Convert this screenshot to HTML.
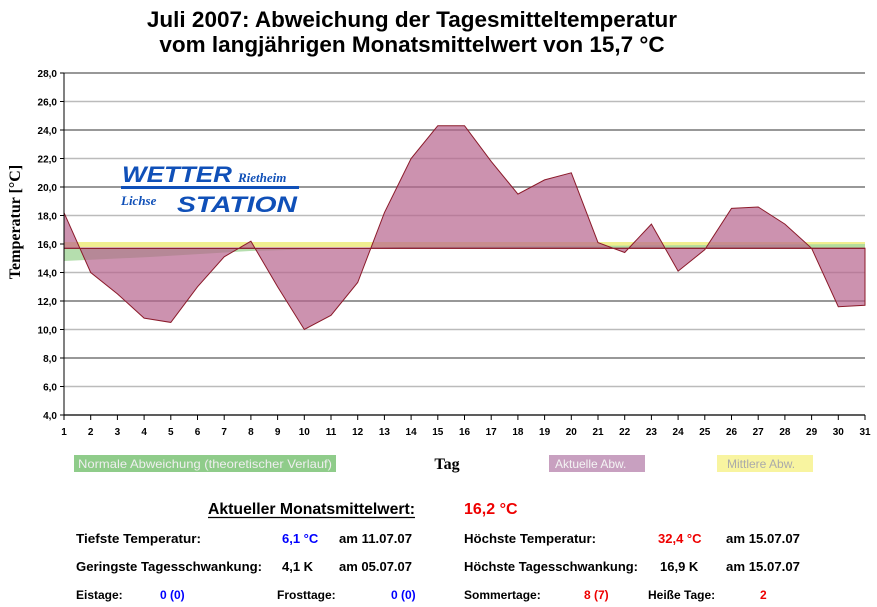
<!DOCTYPE html>
<html><head><meta charset="utf-8"><style>
body{margin:0;width:877px;height:607px;background:#fff;overflow:hidden;font-family:"Liberation Sans",sans-serif}
svg{position:absolute;left:0;top:0}
</style></head><body>
<svg width="877" height="607" viewBox="0 0 877 607">
<text x="412" y="27" font-size="22.5" font-weight="bold" text-anchor="middle" font-family="Liberation Sans">Juli 2007: Abweichung der Tagesmitteltemperatur</text>
<text x="412" y="52" font-size="22.5" font-weight="bold" text-anchor="middle" font-family="Liberation Sans">vom langjährigen Monatsmittelwert von 15,7 °C</text>
<g stroke-width="1.5">
<line x1="64" x2="865" y1="73" y2="73" stroke="#777"/>
<line x1="64" x2="865" y1="101.5" y2="101.5" stroke="#bbb"/>
<line x1="64" x2="865" y1="130" y2="130" stroke="#777"/>
<line x1="64" x2="865" y1="158.5" y2="158.5" stroke="#bbb"/>
<line x1="64" x2="865" y1="187" y2="187" stroke="#777"/>
<line x1="64" x2="865" y1="215.5" y2="215.5" stroke="#bbb"/>
<line x1="64" x2="865" y1="244" y2="244" stroke="#777"/>
<line x1="64" x2="865" y1="272.5" y2="272.5" stroke="#bbb"/>
<line x1="64" x2="865" y1="301" y2="301" stroke="#777"/>
<line x1="64" x2="865" y1="329.5" y2="329.5" stroke="#bbb"/>
<line x1="64" x2="865" y1="358" y2="358" stroke="#777"/>
<line x1="64" x2="865" y1="386.5" y2="386.5" stroke="#bbb"/>
<line x1="64" x2="865" y1="415" y2="415" stroke="#777"/>
</g>
<rect x="64" y="242" width="801" height="5" fill="#f0ee90"/>
<polygon points="64,248.3 64,261 150,257 250,251 400,247 865,244 865,248.3" fill="#a8d8a0" opacity="0.85"/>
<polygon points="64,248.3 64,212.7 90.7,272.5 117.4,293.9 144.1,318.1 170.8,322.4 197.5,286.8 224.2,256.8 250.9,241.2 277.6,286.8 304.3,329.5 331,315.3 357.7,282.5 384.4,212.7 411.1,158.5 437.8,125.7 464.5,125.7 491.2,161.4 517.9,194.1 544.6,179.9 571.3,172.8 598,242.6 624.7,252.5 651.4,224.1 678.1,271.1 704.8,249.7 731.5,208.4 758.2,207 784.9,224.1 811.6,248.3 838.3,306.7 865,305.3 865,248.3" fill="#b7648d" fill-opacity="0.7" stroke="#8b1a2a" stroke-width="1"/>
<line x1="64" x2="865" y1="248.3" y2="248.3" stroke="#8b1a2a" stroke-width="1.2"/>
<line x1="64" x2="64" y1="73" y2="415" stroke="#000"/>
<g stroke="#000"><line x1="60" x2="64" y1="73" y2="73"/><line x1="60" x2="64" y1="101.5" y2="101.5"/><line x1="60" x2="64" y1="130" y2="130"/><line x1="60" x2="64" y1="158.5" y2="158.5"/><line x1="60" x2="64" y1="187" y2="187"/><line x1="60" x2="64" y1="215.5" y2="215.5"/><line x1="60" x2="64" y1="244" y2="244"/><line x1="60" x2="64" y1="272.5" y2="272.5"/><line x1="60" x2="64" y1="301" y2="301"/><line x1="60" x2="64" y1="329.5" y2="329.5"/><line x1="60" x2="64" y1="358" y2="358"/><line x1="60" x2="64" y1="386.5" y2="386.5"/><line x1="60" x2="64" y1="415" y2="415"/></g>
<g font-size="10" font-weight="bold" text-anchor="end" font-family="Liberation Sans">
<text x="57" y="77">28,0</text><text x="57" y="105.5">26,0</text><text x="57" y="134">24,0</text><text x="57" y="162.5">22,0</text><text x="57" y="191">20,0</text><text x="57" y="219.5">18,0</text><text x="57" y="248">16,0</text><text x="57" y="276.5">14,0</text><text x="57" y="305">12,0</text><text x="57" y="333.5">10,0</text><text x="57" y="362">8,0</text><text x="57" y="390.5">6,0</text><text x="57" y="419">4,0</text>
</g>
<text transform="translate(20,222) rotate(-90)" font-size="16" font-weight="bold" text-anchor="middle" font-family="Liberation Serif">Temperatur [°C]</text>
<g id="xt" font-size="10" font-weight="bold" text-anchor="middle" font-family="Liberation Sans"></g>
<g font-style="italic" font-weight="bold" fill="#1050b8">
<text x="122" y="182" font-size="22" font-family="Liberation Sans" textLength="110" lengthAdjust="spacingAndGlyphs">WETTER</text>
<text x="238" y="182" font-size="13" font-family="Liberation Serif">Rietheim</text>
<rect x="121" y="186" width="178" height="3"/>
<text x="121" y="205" font-size="13" font-family="Liberation Serif">Lichse</text>
<text x="177" y="212" font-size="22" font-family="Liberation Sans" textLength="120" lengthAdjust="spacingAndGlyphs">STATION</text>
</g>
<rect x="74" y="455" width="262" height="17" fill="#8fcc8a"/>
<text x="78" y="468" font-size="12" fill="#eee" font-family="Liberation Sans" textLength="254" lengthAdjust="spacingAndGlyphs">Normale Abweichung (theoretischer Verlauf)</text>
<text x="447" y="469" font-size="16" font-weight="bold" text-anchor="middle" font-family="Liberation Serif">Tag</text>
<rect x="549" y="455" width="96" height="17" fill="#c8a0c0"/>
<text x="555" y="468" font-size="12" fill="#f4f4f4" font-family="Liberation Sans">Aktuelle Abw.</text>
<rect x="717" y="455" width="96" height="17" fill="#f8f4a0"/>
<text x="727" y="468" font-size="12" fill="#aaa" font-family="Liberation Sans">Mittlere Abw.</text>
<text x="208" y="514" font-size="16" font-weight="bold" font-family="Liberation Sans" textLength="207" lengthAdjust="spacingAndGlyphs">Aktueller Monatsmittelwert:</text>
<line x1="208" x2="415" y1="517.5" y2="517.5" stroke="#000" stroke-width="1.3"/>
<text x="464" y="514" font-size="16" font-weight="bold" fill="#e00" font-family="Liberation Sans">16,2 °C</text>
<g font-size="13" font-weight="bold" font-family="Liberation Sans">
<text x="76" y="543" textLength="125" lengthAdjust="spacingAndGlyphs">Tiefste Temperatur:</text><text x="282" y="543" fill="#00f">6,1 °C</text><text x="339" y="543" textLength="73" lengthAdjust="spacingAndGlyphs">am 11.07.07</text>
<text x="464" y="543" textLength="132" lengthAdjust="spacingAndGlyphs">Höchste Temperatur:</text><text x="658" y="543" fill="#e00">32,4 °C</text><text x="726" y="543" textLength="74" lengthAdjust="spacingAndGlyphs">am 15.07.07</text>
<text x="76" y="571" textLength="186" lengthAdjust="spacingAndGlyphs">Geringste Tagesschwankung:</text><text x="282" y="571">4,1 K</text><text x="339" y="571" textLength="73" lengthAdjust="spacingAndGlyphs">am 05.07.07</text>
<text x="464" y="571" textLength="174" lengthAdjust="spacingAndGlyphs">Höchste Tagesschwankung:</text><text x="660" y="571">16,9 K</text><text x="726" y="571" textLength="74" lengthAdjust="spacingAndGlyphs">am 15.07.07</text>
</g>
<g font-size="12" font-weight="bold" font-family="Liberation Sans">
<text x="76" y="599">Eistage:</text><text x="160" y="599" fill="#00f">0 (0)</text>
<text x="277" y="599">Frosttage:</text><text x="391" y="599" fill="#00f">0 (0)</text>
<text x="464" y="599">Sommertage:</text><text x="584" y="599" fill="#e00">8 (7)</text>
<text x="648" y="599">Heiße Tage:</text><text x="760" y="599" fill="#e00">2</text>
</g>
<g stroke="#000" id="xtk"></g>
</svg>
<script>
var g=document.getElementById('xt'),k=document.getElementById('xtk'),ns='http://www.w3.org/2000/svg';
for(var d=1;d<=31;d++){var x=64+(d-1)*26.7;
var t=document.createElementNS(ns,'text');t.setAttribute('x',x);t.setAttribute('y',435);t.textContent=d;g.appendChild(t);
var l=document.createElementNS(ns,'line');l.setAttribute('x1',x);l.setAttribute('x2',x);l.setAttribute('y1',415);l.setAttribute('y2',420);k.appendChild(l);}
var b=document.createElementNS(ns,'line');b.setAttribute('x1',64);b.setAttribute('x2',865);b.setAttribute('y1',415);b.setAttribute('y2',415);k.appendChild(b);
</script>
</body></html>
